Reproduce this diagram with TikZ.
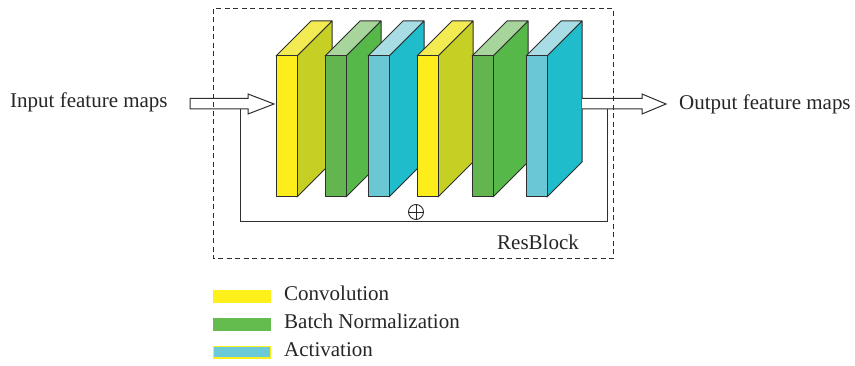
\documentclass[tikz,border=0pt]{standalone}
\usepackage{fontspec}
\setmainfont{Liberation Serif}
\definecolor{edge}{HTML}{2E2E2E}
\definecolor{yfront}{HTML}{FDEE1B}
\definecolor{yside}{HTML}{C6CF24}
\definecolor{ytop}{HTML}{F2EC52}
\definecolor{gfront}{HTML}{63B64F}
\definecolor{gside}{HTML}{56B848}
\definecolor{gtop}{HTML}{A8D59B}
\definecolor{cfront}{HTML}{69C8D4}
\definecolor{cside}{HTML}{1FBCCC}
\definecolor{ctop}{HTML}{A8DDE6}
\definecolor{lyellow}{HTML}{FEF01A}
\definecolor{lgreen}{HTML}{64BC4F}
\definecolor{lcyan}{HTML}{6BCAD8}
\newcommand{\featblock}[4]{%
  \filldraw[face,fill=#3] (#1+21,56) -- (#1+56,21) -- (#1+56,162) -- (#1+21,197) -- cycle;
  \filldraw[face,fill=#4] (#1,56) -- (#1+35,21) -- (#1+56,21) -- (#1+21,56) -- cycle;
  \filldraw[face,fill=#2] (#1,56) rectangle (#1+21,197);
}
\begin{document}
\begin{tikzpicture}[x=1pt,y=-1pt,
  face/.style={draw=edge,line width=1pt,line join=round},
  hollow/.style={draw=edge,fill=white,line width=1pt,line join=miter},
  wire/.style={draw=edge,line width=1pt},
  lbl/.style={font=\fontsize{21}{24}\selectfont,text=black!85,inner sep=0pt,anchor=base west},
  oplus/.style={circle,draw=black!85,line width=0.9pt,minimum size=15pt,inner sep=0pt,
    path picture={\draw[black!85,line width=0.9pt]
      (path picture bounding box.north) -- (path picture bounding box.south)
      (path picture bounding box.west) -- (path picture bounding box.east);}},
  legbox/.style={line width=1.2pt}]
\useasboundingbox (0,0) rectangle (855,366);
% blocks
\featblock{276}{yfront}{yside}{ytop}
\featblock{325}{gfront}{gside}{gtop}
\featblock{368}{cfront}{cside}{ctop}
\featblock{417}{yfront}{yside}{ytop}
\featblock{472}{gfront}{gside}{gtop}
\featblock{526}{cfront}{cside}{ctop}
% labels
\node[lbl] (in) at (10,108) {Input feature maps};
\node[lbl] (out) at (679,110) {Output feature maps};
\node[lbl] (rb) at (497,250) {ResBlock};
% hollow arrows
\coordinate (inTail) at (190,98.5);
\coordinate (inTip) at (274,104);
\coordinate (outStart) at (582,98.5);
\coordinate (outTip) at (666,104);
\filldraw[hollow] (inTail) -- (248,98.5) -- (248,94) -- (inTip) -- (248,114) -- (248,109) -- (190,109) -- cycle;
\filldraw[hollow] (outStart) -- (642,98.5) -- (642,94) -- (outTip) -- (642,114) -- (642,109) -- (582,109);
% skip connection
\coordinate (sA) at (240,109);
\coordinate (sB) at (240,222);
\coordinate (sC) at (607,222);
\coordinate (sD) at (607,109);
\draw[wire] (sA) -- (sB) -- (sC) -- (sD);
\node[oplus] (plus) at (416,212) {};
% dashed ResBlock frame
\draw[edge,line width=1pt,dash pattern=on 5pt off 3.5pt] (213,9) rectangle (613,259);
% legend
\fill[lyellow] (213,290) rectangle (271,303);
\fill[lgreen] (213,318) rectangle (271,331);
\filldraw[fill=lcyan,draw=lyellow,legbox] (213.5,346.5) rectangle (270.5,358);
\node[lbl] (l1) at (284,301) {Convolution};
\node[lbl] (l2) at (284,329) {Batch Normalization};
\node[lbl] (l3) at (284,357) {Activation};
\end{tikzpicture}
\end{document}
